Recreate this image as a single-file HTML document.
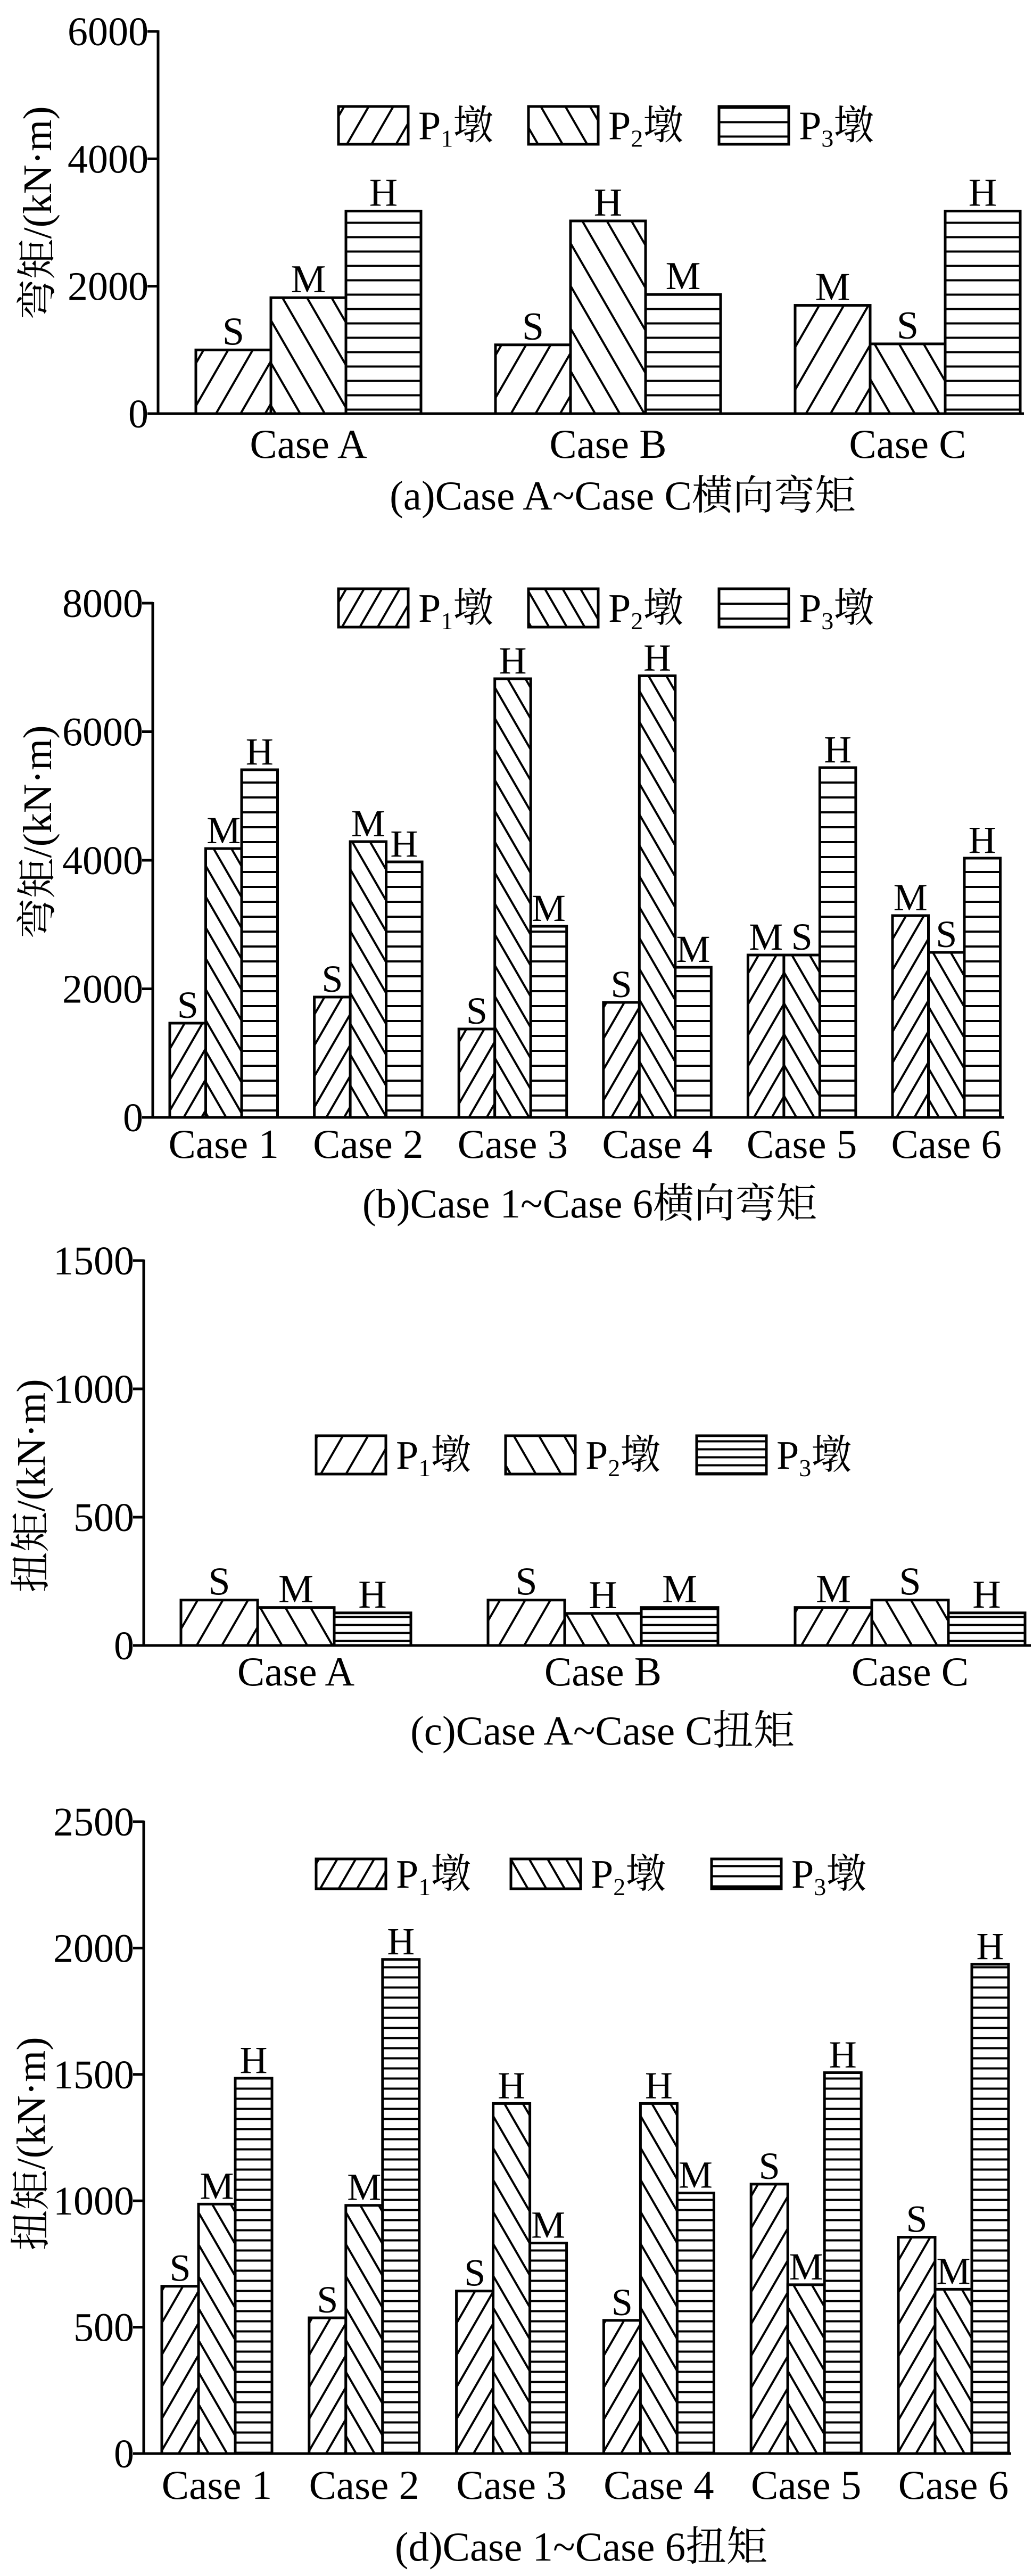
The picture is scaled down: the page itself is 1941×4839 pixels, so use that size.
<!DOCTYPE html>
<html><head><meta charset="utf-8">
<style>
html,body{margin:0;padding:0;background:#fff;}
svg{display:block;}
text{font-family:"Liberation Serif","Noto Serif CJK SC","Noto Sans CJK SC",serif;fill:#000;}
</style></head>
<body>
<svg id="fig" width="1941" height="4839" viewBox="0 0 1941 4839" xmlns="http://www.w3.org/2000/svg">
<defs id="defs"></defs>
</svg>
<script>
// ---- data ----
const catsABC = ["Case A","Case B","Case C"];
const cats16 = ["Case 1","Case 2","Case 3","Case 4","Case 5","Case 6"];
const seriesNames = ["P1","P2","P3"];
// (a) transverse moment Case A~C
const aP1 = [1000, 1080, 1700];
const aP2 = [1820, 3025, 1095];
const aP3 = [3180, 1870, 3180];
const aLab = [["S","M","H"],["S","H","M"],["M","S","H"]];
const aTicks = [0,2000,4000,6000];
// (b) transverse moment Case 1~6
const bP1 = [1466, 1872, 1375, 1789, 2526, 3139];
const bP2 = [4182, 4290, 6824, 6870, 2526, 2567];
const bP3 = [5408, 3975, 2973, 2335, 5441, 4033];
const bLab = [["S","M","H"],["S","M","H"],["S","H","M"],["S","H","M"],["M","S","H"],["M","S","H"]];
const bTicks = [0,2000,4000,6000,8000];
// (c) torque Case A~C
const cP1 = [177, 177, 148];
const cP2 = [148, 125, 177];
const cP3 = [127, 148, 127];
const cLab = [["S","M","H"],["S","H","M"],["M","S","H"]];
const cTicks = [0,500,1000,1500];
// (d) torque Case 1~6
const dP1 = [662, 537, 643, 527, 1066, 856];
const dP2 = [987, 982, 1385, 1385, 668, 650];
const dP3 = [1485, 1955, 833, 1031, 1507, 1936];
const dLab = [["S","M","H"],["S","M","H"],["S","H","M"],["S","H","M"],["S","M","H"],["S","M","H"]];
const dTicks = [0,500,1000,1500,2000,2500];

const NS = "http://www.w3.org/2000/svg";
const svg = document.getElementById("fig");
const defs = document.getElementById("defs");
function mk(tag, attrs, parent){
  const e = document.createElementNS(NS, tag);
  for (const k in attrs) e.setAttribute(k, attrs[k]);
  (parent||svg).appendChild(e);
  return e;
}
function makePatterns(id, diagP, horizP){
  [["s",30],["b",-30]].forEach(([n,ang])=>{
    const p = mk("pattern",{id:id+n,patternUnits:"userSpaceOnUse",width:diagP,height:diagP,patternTransform:"rotate("+ang+")"},defs);
    mk("rect",{x:0,y:0,width:diagP,height:diagP,fill:"#fff"},p);
    mk("line",{x1:diagP/2,y1:-2,x2:diagP/2,y2:diagP+2,stroke:"#000","stroke-width":4},p);
  });
  const p = mk("pattern",{id:id+"h",patternUnits:"userSpaceOnUse",width:40,height:horizP,y:0},defs);
  mk("rect",{x:0,y:0,width:40,height:horizP,fill:"#fff"},p);
  mk("line",{x1:-2,y1:horizP/2,x2:42,y2:horizP/2,stroke:"#000","stroke-width":4},p);
}

function drawChart(cfg){
  const g = mk("g",{});
  
  
  makePatterns(cfg.id, cfg.diagP, cfg.horizP);
  const fills = ["url(#"+cfg.id+"s)","url(#"+cfg.id+"b)","url(#"+cfg.id+"h)"];
  const yScale = v => cfg.y0 - (v/cfg.max)*(cfg.y0-cfg.yTop);
  const groupX = i => cfg.gStart + i*cfg.gSpace;
  const series = [cfg.p1, cfg.p2, cfg.p3];
  cfg.cats.forEach((c,i)=>{
    for(let s=0;s<3;s++){
      const v = series[s][i];
      const x = groupX(i) + s*cfg.bw;
      const y = yScale(v);
      const r = mk("rect",{x:x,y:y,width:cfg.bw,height:cfg.y0-y,fill:fills[s],stroke:"#000","stroke-width":5},g);
      
      
      const t = mk("text",{x:x+cfg.bw/2,y:y-10,"text-anchor":"middle","font-size":cfg.lfs},g);
      t.textContent = cfg.labs[i][s];
      
      
    }
    const ct = mk("text",{x:groupX(i)+1.5*cfg.bw,y:cfg.catY,"text-anchor":"middle","font-size":77},g);
    ct.textContent = c;
    
    
  });
  const ya = mk("line",{x1:cfg.x0,y1:cfg.yTop-2,x2:cfg.x0,y2:cfg.y0,stroke:"#000","stroke-width":5},g);
  
  
  const xa = mk("line",{x1:cfg.x0,y1:cfg.y0,x2:cfg.xEnd,y2:cfg.y0,stroke:"#000","stroke-width":5},g);
  
  
  cfg.ticks.forEach(tv=>{
    const y = yScale(tv);
    mk("line",{x1:cfg.x0-20,y1:y,x2:cfg.x0,y2:y,stroke:"#000","stroke-width":5},g);
    const t = mk("text",{x:cfg.x0-18,y:y+26,"text-anchor":"end","font-size":76},g);
    t.textContent = tv;
    
    
  });
  const yt = mk("text",{x:0,y:0,"text-anchor":"middle","font-size":76,transform:"translate("+cfg.ytX+","+cfg.ytY+") rotate(-90)"},g);
  yt.textContent = cfg.ytitle;
  
  
  const subs = ["1","2","3"];
  cfg.legX.forEach((lx,s)=>{
    const lg = mk("g",{},g);
    
    
    mk("rect",{x:lx,y:cfg.legY,width:131,height:cfg.legH,fill:fills[s],stroke:"#000","stroke-width":5},lg);
    const t = mk("text",{x:lx+150,y:cfg.legY+cfg.legH/2+26,"font-size":76},lg);
    t.innerHTML = 'P<tspan font-size="46" dy="14">'+subs[s]+'</tspan><tspan dy="-14">墩</tspan>';
  });
  const cap = mk("text",{x:cfg.capX,y:cfg.capY,"text-anchor":"middle","font-size":77},g);
  cap.textContent = cfg.caption;
  
  
}

drawChart({id:"pa",name:"chart-a-transverse-moment",cats:catsABC,p1:aP1,p2:aP2,p3:aP3,labs:aLab,ticks:aTicks,max:6000,
  x0:297,xEnd:1924,y0:777,yTop:59,gStart:368,gSpace:563,bw:141,diagP:40,horizP:27,lfs:74,catY:860,
  ytitle:"弯矩/(kN·m)",ytX:96,ytY:400,legX:[636,993,1351],legY:200,legH:71,capX:1170,capY:957,
  caption:"(a)Case A~Case C横向弯矩"});
drawChart({id:"pb",name:"chart-b-transverse-moment",cats:cats16,p1:bP1,p2:bP2,p3:bP3,labs:bLab,ticks:bTicks,max:8000,
  x0:287,xEnd:1887,y0:2099,yTop:1133,gStart:319,gSpace:271.6,bw:67.5,diagP:29,horizP:28,lfs:72,catY:2175,
  ytitle:"弯矩/(kN·m)",ytX:96,ytY:1563,legX:[636,993,1351],legY:1106,legH:72,capX:1108,capY:2287,
  caption:"(b)Case 1~Case 6横向弯矩"});
drawChart({id:"pc",name:"chart-c-torque",cats:catsABC,p1:cP1,p2:cP2,p3:cP3,labs:cLab,ticks:cTicks,max:1500,
  x0:270,xEnd:1937,y0:3091,yTop:2368,gStart:340,gSpace:577,bw:144,diagP:41,horizP:15,lfs:74,catY:3166,
  ytitle:"扭矩/(kN·m)",ytX:84,ytY:2791,legX:[594,950,1309],legY:2697,legH:72,capX:1132,capY:3277,
  caption:"(c)Case A~Case C扭矩"});
drawChart({id:"pd",name:"chart-d-torque",cats:cats16,p1:dP1,p2:dP2,p3:dP3,labs:dLab,ticks:dTicks,max:2500,
  x0:270,xEnd:1900,y0:4609,yTop:3422,gStart:304,gSpace:276.8,bw:69,diagP:30,horizP:19,lfs:72,catY:4694,
  ytitle:"扭矩/(kN·m)",ytX:84,ytY:4027,legX:[594,960,1337],legY:3492,legH:56,capX:1092,capY:4810,
  caption:"(d)Case 1~Case 6扭矩"});
</script>
</body></html>
